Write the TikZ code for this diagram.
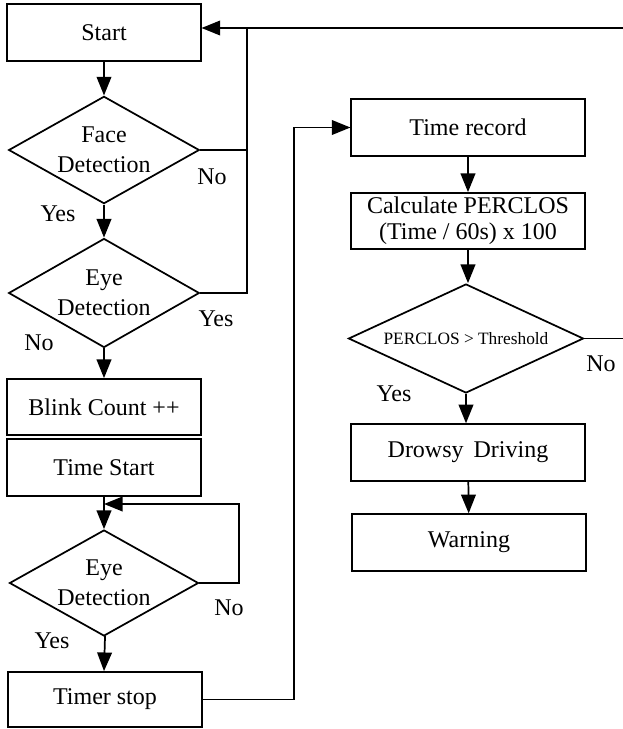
\documentclass[tikz,border=0pt]{standalone}
\usepackage{fontspec}
\setmainfont{Liberation Serif}
\usetikzlibrary{arrows.meta,shapes.geometric}

\begin{document}
\begin{tikzpicture}[x=0.75pt,y=0.75pt,yscale=-1,xscale=1,
  every node/.style={font=\fontsize{18}{22.5}\selectfont},
  procbox/.style={draw,line width=1.3pt,rectangle,inner sep=0pt,minimum width=145pt,minimum height=42.5pt},
  widebox/.style={procbox,minimum width=175pt},
  testbox/.style={draw,line width=1.3pt,diamond,aspect=1.8,inner sep=0pt,align=center,minimum width=143pt,minimum height=80.5pt},
  flow/.style={line width=1.3pt,-{Triangle[length=14pt,width=11pt]}},
  wire/.style={line width=1.3pt}]
\useasboundingbox (0,0) rectangle (623,729);

%Shape: Rectangle [id:start]
\node [procbox] (start) at (104,32.5) {Start};
%Shape: Diamond [id:face]
\node [testbox] (face) at (104,150) {Face\\Detection};
%Shape: Diamond [id:eye]
\node [testbox,minimum height=81.75pt] (eye) at (104,293) {Eye\\Detection};
%Shape: Rectangle [id:blink]
\node [procbox,minimum height=42pt] (blink) at (104,407) {Blink Count ++};
%Shape: Rectangle [id:timestart]
\node [procbox] (timestart) at (104,467.5) {Time Start};
%Shape: Diamond [id:eyeloop]
\node [testbox,minimum width=141.75pt,minimum height=79.5pt] (eyeloop) at (104,583) {Eye\\Detection};
%Shape: Rectangle [id:timerstop]
\node [procbox,minimum height=41.25pt] (timerstop) at (105,699.5) {Timer stop};

%Shape: Rectangle [id:record]
\node [widebox] (record) at (468,127.5) {Time record};
%Shape: Rectangle [id:calc]
\node [widebox,minimum height=42pt,align=center,font=\fontsize{18}{19.5}\selectfont] (calc) at (468,221) {Calculate PERCLOS\\(Time / 60s) x 100};
%Shape: Diamond [id:perclos]
\node [testbox,aspect=2.15,minimum width=176.25pt,minimum height=81.75pt,font=\fontsize{13}{15}\selectfont] (perclos) at (466,338.5) {PERCLOS > Threshold};
%Shape: Rectangle [id:drowsy]
\node [widebox] (drowsy) at (468,452.5) {Drowsy\, Driving};
%Shape: Rectangle [id:warning]
\node [widebox] (warning) at (469,542.5) {Warning};

%Straight Lines
\draw [flow] (start) -- (face);
\draw [flow] (face) -- (eye);
\draw [flow] (eye) -- (blink);
\draw [flow] (timestart.south) -- (eyeloop.north);
\draw [flow] (eyeloop.south) -- (timerstop.south |- eyeloop.south) -- (timerstop.north -| eyeloop.south);
\draw [flow] (record) -- (calc);
\draw [flow] (calc.south) -- (perclos.north -| calc.south);
\draw [flow] (perclos.south) -- (drowsy.north -| perclos.south);
\draw [flow] (drowsy) -- (warning);

%Return lines
\coordinate (topin) at (623,28);
\coordinate (topx) at (247,28);
\draw [flow] (topin) -- (start.east |- topin);
\draw [wire] (face.east) -- (face.east -| topx);
\draw [wire] (eye.east) -| (topx);
\coordinate (loop) at (239,504);
\draw [flow] (eyeloop.east) -| (loop) -- (timestart.south |- loop);
\coordinate (up) at (294,127.5);
\draw [flow] (timerstop.east) -| (up) -- (record.west);
\coordinate (pout) at (623,338.5);
\draw [wire] (perclos.east) -- (pout);

% Text Node
\node (facno) at (212,177) {No};
\node (facyes) at (58,214) {Yes};
\node (eyeyes) at (216,319) {Yes};
\node (eyeno) at (39,343) {No};
\node (loopno) at (229,608) {No};
\node (loopyes) at (52,641) {Yes};
\node (percno) at (601,364) {No};
\node (percyes) at (394,394) {Yes};

\end{tikzpicture}
\end{document}
